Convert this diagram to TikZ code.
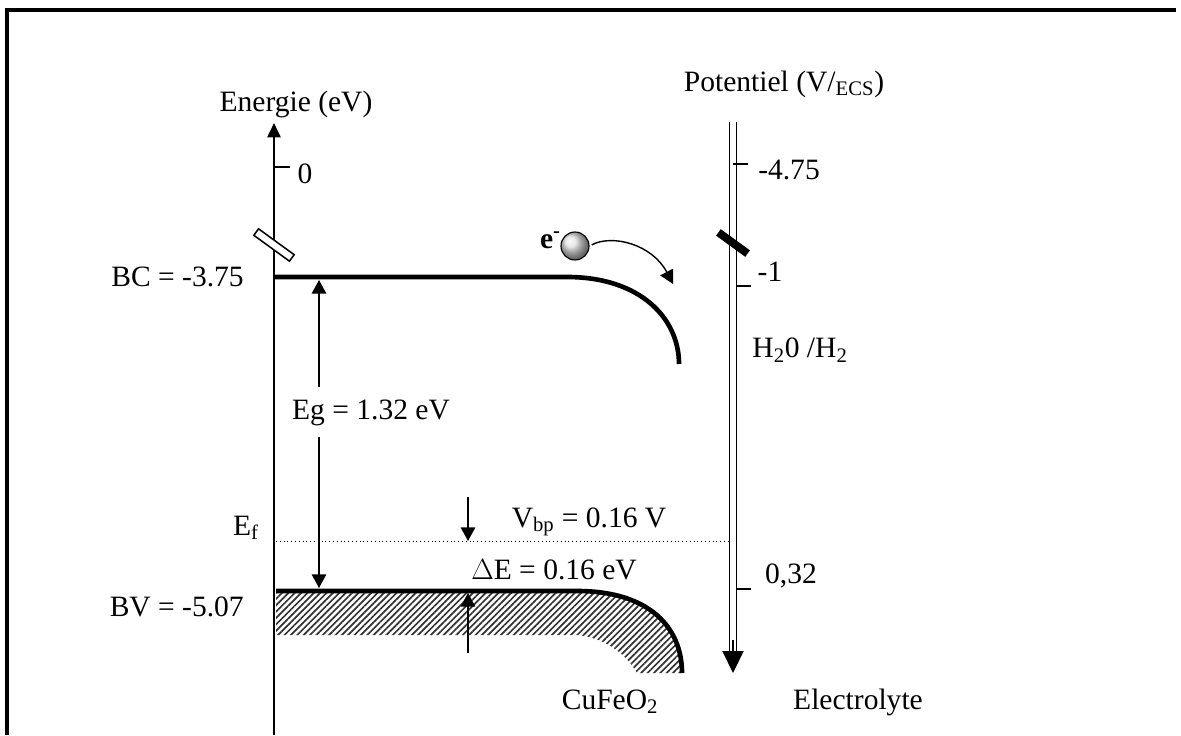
\documentclass[tikz,border=0pt]{standalone}
\usepackage{fontspec}
\setmainfont{Liberation Serif}
\usetikzlibrary{arrows.meta,patterns.meta}

\begin{document}
\begin{tikzpicture}[x=0.025cm, y=-0.025cm,
    lbl/.style={inner sep=0pt, font=\fontsize{21}{25}\selectfont},
    tickmark/.style={line width=0.8pt},
    gaparrow/.style={line width=1pt, -{Triangle[width=0.36cm, length=0.34cm]}},
    band/.style={line width=3.3pt}]
  \useasboundingbox (0,0) rectangle (1181,735);
  % frame (cut off at right and bottom)
  \draw[line width=2.2pt] (7,735) -- (7,10) -- (1176,10);

  % energy axis
  \coordinate (ebot) at (274,735);
  \coordinate (etop) at (274,123);
  \draw[line width=1.6pt, -{Triangle[width=0.33cm, length=0.36cm]}] (ebot) -- (etop);
  \node[lbl] (energie) at (296,104) {Energie (eV)};
  \coordinate (tzero) at (274,167);
  \draw[tickmark] (tzero) -- ++(16,0);
  \node[lbl] (zero) at (305,174) {0};
  \node[draw, fill=white, line width=1.1pt, minimum width=1.1cm, minimum height=0.2cm,
    inner sep=0pt, rotate=-36] (ebreak) at (274,245) {};

  % conduction band
  \coordinate (bcl) at (274,277);
  \coordinate (bcb) at (567,277);
  \coordinate (bce) at (679,364);
  \draw[band] (bcl) -- (bcb) .. controls (640,277) and (679,318) .. (bce);
  \node[lbl, anchor=east] (bclabel) at (244,277) {BC = -3.75};

  % valence band
  \coordinate (bvl) at (276,591);
  \coordinate (bvb) at (577,591);
  \coordinate (bve) at (682,673);
  \fill[pattern={Lines[angle=45, distance=3.2pt, line width=1.2pt]}, pattern color=black!80]
    (bvl) -- (bvb) .. controls (650,591) and (682,628) .. (bve)
    -- (637,673) .. controls (625,652) and (600,635) .. (573,635) -- (276,635) -- cycle;
  \draw[band] (bvl) -- (bvb) .. controls (650,591) and (682,628) .. (bve);
  \node[lbl, anchor=east] (bvlabel) at (244,607) {BV = -5.07};

  % gap
  \node[lbl] (eg) at (371,413) {Eg = 1.32 eV};
  \coordinate (egup) at (319,387);
  \coordinate (egdown) at (319,437);
  \draw[gaparrow] (egup) -- (319,280);
  \draw[gaparrow] (egdown) -- (319,588);

  % Fermi level
  \coordinate (efl) at (276,541);
  \coordinate (efr) at (739,541);
  \draw[dotted, line width=0.7pt] (efl) -- (efr);
  \node[lbl] (eflabel) at (246,528) {E\textsubscript{f}};

  % band bending
  \draw[gaparrow] (468,497) -- (468,541);
  \draw[gaparrow] (468,653) -- (468,593);
  \node[lbl] (vbp) at (589,522) {V\textsubscript{bp} = 0.16 V};
  \node[lbl, anchor=west] (deltae) at (471,570) {$\Delta$E = 0.16 eV};

  % potential axis
  \coordinate (ptop) at (733,122);
  \coordinate (pbot) at (733,652);
  \coordinate (ptip) at (733,673);
  \draw[line width=0.9pt, double distance=0.13cm] (ptop) -- (pbot);
  \draw[line width=0.9pt, -{Triangle[width=0.53cm, length=0.55cm]}] (733,640) -- (ptip);
  \node[lbl] (potentiel) at (784,84) {Potentiel (V/\textsubscript{ECS})};
  \draw[tickmark] (733,164) -- (748,164);
  \node[lbl] (pfirst) at (789,170) {-4.75};
  \node[fill=black, minimum width=0.9cm, minimum height=0.2cm, inner sep=0pt,
    rotate=-36] (pbreak) at (733,243) {};
  \draw[tickmark] (736,286) -- (751,286);
  \node[lbl] (pone) at (770,272) {-1};
  \node[lbl] (couple) at (800,350) {H\textsubscript{2}0 /H\textsubscript{2}};
  \draw[tickmark] (737,589) -- (751,589);
  \node[lbl] (plast) at (791,576) {0,32};

  % electron transfer
  \node[circle, draw, line width=0.8pt, ball color=gray!25, minimum size=0.7cm,
    inner sep=0pt] (ball) at (575,246) {};
  \node[lbl, anchor=east] (elabel) at (561,240) {\textbf{e\textsuperscript{-}}};
  \coordinate (landing) at (673,284);
  \draw[line width=1pt, shorten <=0.06cm, -{Triangle[width=0.36cm, length=0.34cm]}]
    (ball.east) .. controls (612,234) and (652,244) .. (landing);

  % media
  \node[lbl] (semi) at (610,702) {CuFeO\textsubscript{2}};
  \node[lbl] (electrolyte) at (858,702) {Electrolyte};
\end{tikzpicture}
\end{document}
